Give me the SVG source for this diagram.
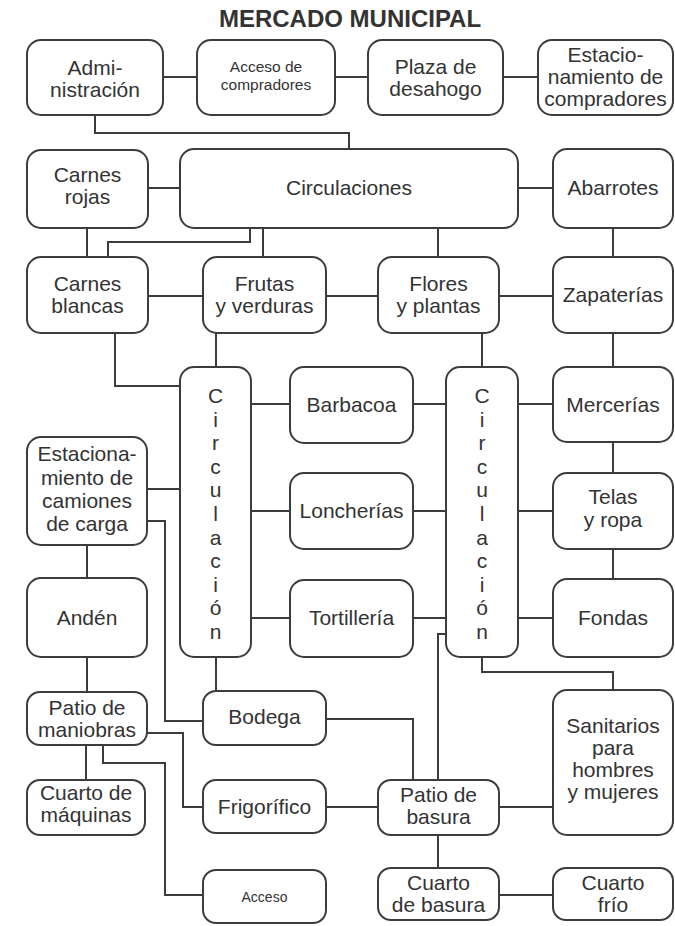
<svg xmlns="http://www.w3.org/2000/svg" width="675" height="926" viewBox="0 0 675 926">
<style>
.b{fill:#fff;stroke:#3c3c3c;stroke-width:2}
.t{font-family:"Liberation Sans",Arial,sans-serif;font-size:21px;fill:#333;text-anchor:middle}
.s{font-size:15.5px}
.xs{font-size:14px}
.title{font-family:"Liberation Sans",Arial,sans-serif;font-size:24px;font-weight:bold;fill:#333;text-anchor:middle}
.c path{fill:none;stroke:#3c3c3c;stroke-width:2}
</style>
<rect width="675" height="926" fill="#fff"/>
<text class="title" x="350" y="27">MERCADO MUNICIPAL</text>
<g class="c" id="connectors">
<path d="M163,77H197M335,77H368M503,77H538"/>
<path d="M95,115V133H349V149"/>
<path d="M148,188H180M518,188H553"/>
<path d="M87,228V257M108,257V242H250V228M263,228V257M438,228V257M613,228V257"/>
<path d="M148,296H203M326,296H378M499,296H553"/>
<path d="M115,333V386H180M216,333V367M482,333V367M613,333V367"/>
<path d="M251,404H290M413,404H446M518,404H553"/>
<path d="M147,489H180M251,511H290M413,511H446M518,511H553M613,442V473"/>
<path d="M147,521H165V721H203"/>
<path d="M87,545V578"/>
<path d="M251,618H290M413,618H446M518,618H553M613,549V579"/>
<path d="M446,634H438V780"/>
<path d="M482,657V672H613V690"/>
<path d="M87,657V692M216,657V691"/>
<path d="M326,719H413V780"/>
<path d="M147,733H183V807H203"/>
<path d="M103,745V763H165V895H203"/>
<path d="M86,745V780"/>
<path d="M326,807H378M499,807H553"/>
<path d="M438,835V868M499,895H553"/>
</g>
<g id="admin"><rect class="b" x="27" y="40" width="136" height="75" rx="14"/><text class="t" x="95" y="75">Admi-</text><text class="t" x="95" y="97">nistración</text></g>
<g id="acceso-compradores"><rect class="b" x="197" y="40" width="138" height="75" rx="14"/><text class="t s" x="266" y="72">Acceso de</text><text class="t s" x="266" y="90">compradores</text></g>
<g id="plaza"><rect class="b" x="368" y="40" width="135" height="75" rx="14"/><text class="t" x="435.5" y="74">Plaza de</text><text class="t" x="435.5" y="96">desahogo</text></g>
<g id="estac-compradores"><rect class="b" x="538" y="40" width="135" height="75" rx="14"/><text class="t" x="605.5" y="62">Estacio-</text><text class="t" x="605.5" y="84">namiento de</text><text class="t" x="605.5" y="106">compradores</text></g>
<g id="carnes-rojas"><rect class="b" x="27" y="150" width="121" height="78" rx="14"/><text class="t" x="87.5" y="182">Carnes</text><text class="t" x="87.5" y="204">rojas</text></g>
<g id="circulaciones"><rect class="b" x="180" y="149" width="338" height="79" rx="14"/><text class="t" x="349" y="195">Circulaciones</text></g>
<g id="abarrotes"><rect class="b" x="553" y="149" width="120" height="79" rx="14"/><text class="t" x="613" y="195">Abarrotes</text></g>
<g id="carnes-blancas"><rect class="b" x="27" y="257" width="121" height="76" rx="14"/><text class="t" x="87.5" y="291">Carnes</text><text class="t" x="87.5" y="313">blancas</text></g>
<g id="frutas"><rect class="b" x="203" y="257" width="123" height="76" rx="14"/><text class="t" x="264.5" y="291">Frutas</text><text class="t" x="264.5" y="313">y verduras</text></g>
<g id="flores"><rect class="b" x="378" y="257" width="121" height="76" rx="14"/><text class="t" x="438.5" y="291">Flores</text><text class="t" x="438.5" y="313">y plantas</text></g>
<g id="zapaterias"><rect class="b" x="553" y="257" width="120" height="76" rx="14"/><text class="t" x="613" y="302">Zapaterías</text></g>
<g id="circulacion-izq"><rect class="b" x="180" y="367" width="71" height="290" rx="14"/><text class="t" x="215.5" y="403"><tspan x="215.5">C</tspan><tspan x="215.5" dy="23.6">i</tspan><tspan x="215.5" dy="23.6">r</tspan><tspan x="215.5" dy="23.6">c</tspan><tspan x="215.5" dy="23.6">u</tspan><tspan x="215.5" dy="23.6">l</tspan><tspan x="215.5" dy="23.6">a</tspan><tspan x="215.5" dy="23.6">c</tspan><tspan x="215.5" dy="23.6">i</tspan><tspan x="215.5" dy="23.6">ó</tspan><tspan x="215.5" dy="23.6">n</tspan></text></g>
<g id="barbacoa"><rect class="b" x="290" y="367" width="123" height="76" rx="14"/><text class="t" x="351.5" y="412">Barbacoa</text></g>
<g id="circulacion-der"><rect class="b" x="446" y="367" width="72" height="290" rx="14"/><text class="t" x="482" y="403"><tspan x="482">C</tspan><tspan x="482" dy="23.6">i</tspan><tspan x="482" dy="23.6">r</tspan><tspan x="482" dy="23.6">c</tspan><tspan x="482" dy="23.6">u</tspan><tspan x="482" dy="23.6">l</tspan><tspan x="482" dy="23.6">a</tspan><tspan x="482" dy="23.6">c</tspan><tspan x="482" dy="23.6">i</tspan><tspan x="482" dy="23.6">ó</tspan><tspan x="482" dy="23.6">n</tspan></text></g>
<g id="mercerias"><rect class="b" x="553" y="367" width="120" height="75" rx="14"/><text class="t" x="613" y="412">Mercerías</text></g>
<g id="estac-camiones"><rect class="b" x="27" y="437" width="120" height="108" rx="14"/><text class="t" x="87" y="461">Estaciona-</text><text class="t" x="87" y="484.5">miento de</text><text class="t" x="87" y="508">camiones</text><text class="t" x="87" y="531">de carga</text></g>
<g id="loncherias"><rect class="b" x="290" y="473" width="123" height="76" rx="14"/><text class="t" x="351.5" y="518">Loncherías</text></g>
<g id="telas"><rect class="b" x="553" y="473" width="120" height="76" rx="14"/><text class="t" x="613" y="504">Telas</text><text class="t" x="613" y="527">y ropa</text></g>
<g id="anden"><rect class="b" x="27" y="578" width="120" height="79" rx="14"/><text class="t" x="87" y="625">Andén</text></g>
<g id="tortilleria"><rect class="b" x="290" y="580" width="123" height="77" rx="14"/><text class="t" x="351.5" y="625">Tortillería</text></g>
<g id="fondas"><rect class="b" x="553" y="579" width="120" height="78" rx="14"/><text class="t" x="613" y="625">Fondas</text></g>
<g id="patio-maniobras"><rect class="b" x="27" y="692" width="120" height="53" rx="13"/><text class="t" x="87" y="715">Patio de</text><text class="t" x="87" y="737">maniobras</text></g>
<g id="bodega"><rect class="b" x="203" y="691" width="123" height="54" rx="13"/><text class="t" x="264.5" y="724">Bodega</text></g>
<g id="sanitarios"><rect class="b" x="553" y="690" width="120" height="145" rx="14"/><text class="t" x="613" y="733">Sanitarios</text><text class="t" x="613" y="755">para</text><text class="t" x="613" y="777">hombres</text><text class="t" x="613" y="799">y mujeres</text></g>
<g id="cuarto-maquinas"><rect class="b" x="27" y="780" width="118" height="55" rx="13"/><text class="t" x="86" y="800">Cuarto de</text><text class="t" x="86" y="822">máquinas</text></g>
<g id="frigorifico"><rect class="b" x="203" y="780" width="123" height="53" rx="13"/><text class="t" x="264.5" y="814">Frigorífico</text></g>
<g id="patio-basura"><rect class="b" x="378" y="780" width="121" height="55" rx="13"/><text class="t" x="438.5" y="802">Patio de</text><text class="t" x="438.5" y="824">basura</text></g>
<g id="acceso"><rect class="b" x="203" y="870" width="123" height="53" rx="13"/><text class="t xs" x="264.5" y="902">Acceso</text></g>
<g id="cuarto-basura"><rect class="b" x="378" y="868" width="121" height="52" rx="13"/><text class="t" x="438.5" y="890">Cuarto</text><text class="t" x="438.5" y="912">de basura</text></g>
<g id="cuarto-frio"><rect class="b" x="553" y="868" width="120" height="52" rx="13"/><text class="t" x="613" y="890">Cuarto</text><text class="t" x="613" y="912">frío</text></g>
</svg>
